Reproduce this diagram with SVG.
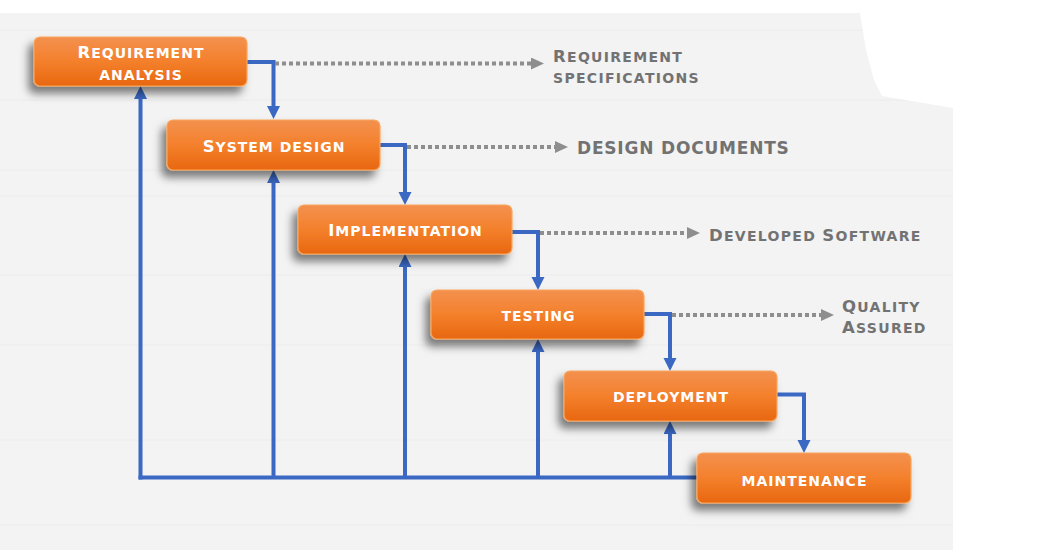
<svg xmlns="http://www.w3.org/2000/svg" width="1049" height="550" viewBox="0 0 1049 550">
<defs>
<style>
.box rect{fill:url(#og);stroke:#f9a65c;stroke-width:1.2;filter:url(#sh)}
.bt{font-family:"DejaVu Sans","Liberation Sans",sans-serif;font-weight:bold;fill:#ffffff;letter-spacing:1px;text-anchor:middle}
.lt{font-family:"DejaVu Sans","Liberation Sans",sans-serif;font-weight:bold;fill:#727272;letter-spacing:1.3px}
.c{font-size:16.5px}
.s{font-size:14px;text-transform:uppercase}
.blue{fill:none;stroke:#3b68c3;stroke-width:4}
.dot{fill:none;stroke:#8e8e8e;stroke-width:4;stroke-dasharray:4 3}
.bg-line{stroke:#ececec;stroke-width:1}
</style>
<linearGradient id="og" x1="0" y1="0" x2="0" y2="1">
<stop offset="0" stop-color="#f3914f"/>
<stop offset="0.5" stop-color="#f4802c"/>
<stop offset="1" stop-color="#e8670f"/>
</linearGradient>
<filter id="sh" x="-20%" y="-30%" width="140%" height="180%">
<feDropShadow dx="-5" dy="7" stdDeviation="4" flood-color="#000" flood-opacity="0.5"/>
</filter>
<marker id="ab" markerUnits="userSpaceOnUse" markerWidth="14" markerHeight="14" refX="5" refY="6.5" orient="auto">
<path d="M0,0 L13,6.5 L0,13 z" fill="#3b68c3"/>
</marker>
<marker id="ag" markerUnits="userSpaceOnUse" markerWidth="14" markerHeight="14" refX="0" refY="6" orient="auto">
<path d="M0,0 L13,6 L0,12 z" fill="#8e8e8e"/>
</marker>
</defs>

<rect x="0" y="0" width="1049" height="550" fill="#ffffff"/>
<rect x="0" y="13" width="953" height="537" fill="#f3f3f3"/>
<g>
<line class="bg-line" x1="0" y1="30" x2="953" y2="30"/>
<line class="bg-line" x1="0" y1="100" x2="953" y2="100"/>
<line class="bg-line" x1="0" y1="170" x2="953" y2="170"/>
<line class="bg-line" x1="0" y1="196" x2="953" y2="196"/>
<line class="bg-line" x1="0" y1="275" x2="953" y2="275"/>
<line class="bg-line" x1="0" y1="345" x2="953" y2="345"/>
<line class="bg-line" x1="0" y1="440" x2="953" y2="440"/>
<line class="bg-line" x1="0" y1="525" x2="953" y2="525"/>
</g>
<path d="M860,13 H953 V108 L882,96 L874,80 L866,50 Z" fill="#ffffff"/>

<g id="connectors">
<path class="blue" d="M138.5,477.5 H697"/>
<path class="blue" marker-end="url(#ab)" d="M140.5,479.5 V94"/>
<path class="blue" marker-end="url(#ab)" d="M273.5,477.5 V178"/>
<path class="blue" marker-end="url(#ab)" d="M405,477.5 V262"/>
<path class="blue" marker-end="url(#ab)" d="M538,477.5 V347"/>
<path class="blue" marker-end="url(#ab)" d="M670,477.5 V429"/>
<path class="blue" marker-end="url(#ab)" d="M247,62 H273.5 V111"/>
<path class="blue" marker-end="url(#ab)" d="M380,145 H405 V197"/>
<path class="blue" marker-end="url(#ab)" d="M512,232 H538 V282"/>
<path class="blue" marker-end="url(#ab)" d="M644,314 H670 V363"/>
<path class="blue" marker-end="url(#ab)" d="M777,394.5 H804 V445"/>
<path class="dot" marker-end="url(#ag)" d="M275,63.5 H531"/>
<path class="dot" marker-end="url(#ag)" d="M407,147 H555"/>
<path class="dot" marker-end="url(#ag)" d="M540,233 H687"/>
<path class="dot" marker-end="url(#ag)" d="M672,315 H821"/>
</g>

<g id="requirement-analysis" class="box">
<rect x="34" y="37" width="213" height="49" rx="6"/>
<text class="bt" x="141" y="58"><tspan class="c">R</tspan><tspan class="s">equirement</tspan></text>
<text class="bt" x="141" y="80"><tspan class="s">analysis</tspan></text>
</g>
<g id="system-design" class="box">
<rect x="167" y="120" width="213" height="50" rx="6"/>
<text class="bt" x="274" y="152"><tspan class="c">S</tspan><tspan class="s">ystem design</tspan></text>
</g>
<g id="implementation" class="box">
<rect x="298" y="205" width="214" height="49" rx="6"/>
<text class="bt" x="405.5" y="236"><tspan class="c">I</tspan><tspan class="s">mplementation</tspan></text>
</g>
<g id="testing" class="box">
<rect x="431" y="290" width="213" height="49" rx="6"/>
<text class="bt" x="538.5" y="321"><tspan class="s">testing</tspan></text>
</g>
<g id="deployment" class="box">
<rect x="564" y="371" width="213" height="50" rx="6"/>
<text class="bt" x="671" y="402"><tspan class="s">deployment</tspan></text>
</g>
<g id="maintenance" class="box">
<rect x="697" y="453" width="214" height="50" rx="6"/>
<text class="bt" x="804.5" y="485.5"><tspan class="s">maintenance</tspan></text>
</g>

<g id="labels">
<text class="lt" x="553" y="62"><tspan class="c">R</tspan><tspan class="s">equirement</tspan></text>
<text class="lt" x="553" y="83"><tspan class="s">specifications</tspan></text>
<text class="lt" x="577" y="154" style="font-size:17px;letter-spacing:0.8px">DESIGN DOCUMENTS</text>
<text class="lt" x="709" y="241"><tspan class="c">D</tspan><tspan class="s">eveloped </tspan><tspan class="c">S</tspan><tspan class="s">oftware</tspan></text>
<text class="lt" x="842" y="312"><tspan class="c">Q</tspan><tspan class="s">uality</tspan></text>
<text class="lt" x="842" y="333"><tspan class="c">A</tspan><tspan class="s">ssured</tspan></text>
</g>
</svg>
